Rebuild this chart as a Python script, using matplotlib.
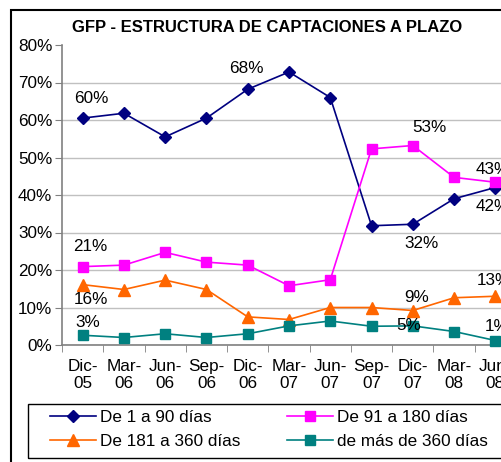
import matplotlib
matplotlib.use("Agg")
import matplotlib.pyplot as plt
from matplotlib.patches import Rectangle

plt.rcParams['font.family'] = ['Liberation Sans', 'DejaVu Sans']

categories = ["Dic-\n05", "Mar-\n06", "Jun-\n06", "Sep-\n06", "Dic-\n06", "Mar-\n07",
              "Jun-\n07", "Sep-\n07", "Dic-\n07", "Mar-\n08", "Jun-\n08"]
s1_90 = [60.5, 61.8, 55.5, 60.5, 68.2, 72.8, 66.0, 31.8, 32.2, 39.0, 42.0]
s91_180 = [20.9, 21.3, 24.7, 22.1, 21.3, 15.8, 17.4, 52.3, 53.2, 44.7, 43.4]
s181_360 = [16.1, 14.8, 17.3, 14.8, 7.5, 6.8, 10.0, 10.0, 9.2, 12.6, 13.0]
s360 = [2.6, 2.0, 3.0, 2.0, 3.0, 5.1, 6.4, 5.0, 5.1, 3.6, 1.2]
series_names = ["De 1 a 90 días", "De 91 a 180 días", "De 181 a 360 días", "de más de 360 días"]
yticks = [0, 10, 20, 30, 40, 50, 60, 70, 80]

# data labels: (series index, category index, text, dx px, dy px)
labels = [
    (0, 0, "60%", 9, 20), (0, 4, "68%", -1, 21), (0, 8, "32%", 9, -19), (0, 10, "42%", -3, -19),
    (1, 0, "21%", 8, 20), (1, 8, "53%", 17, 18), (1, 10, "43%", -3, 13),
    (2, 0, "16%", 8, -15), (2, 8, "9%", 4, 13), (2, 10, "13%", -1, 16),
    (3, 0, "3%", 5, 13), (3, 8, "5%", -4, 0), (3, 10, "1%", 2, 14),
]

W, H = 501, 462
FS = 12.3
fig = plt.figure(figsize=(W / 100, H / 100), dpi=100)
fig.patch.set_facecolor("white")
fig.patches.append(Rectangle((11 / W, -0.1), 1.2, 1 - 10 / H + 0.1, transform=fig.transFigure,
                             fill=False, edgecolor="black", linewidth=1.5))
fig.patches.append(Rectangle((28 / W, 1 - 458 / H), 1.2, 54 / H, transform=fig.transFigure,
                             fill=False, edgecolor="black", linewidth=1.0))

ax = fig.add_axes([62 / W, 1 - 345 / H, 454 / W, 300 / H])
x = list(range(len(categories)))
all_series = [s1_90, s91_180, s181_360, s360]
colors = ["#000080", "#FF00FF", "#FF6600", "#008080"]
markers = ["D", "s", "^", "s"]
msizes = [6.5, 7, 8, 6.5]
handles = []
for s, c, m, ms, name in zip(all_series, colors, markers, msizes, series_names):
    h, = ax.plot(x, s, color=c, marker=m, markersize=ms, linewidth=1.2, label=name,
                 markeredgecolor=c, markerfacecolor=c, clip_on=False, zorder=3)
    handles.append(h)

for si, ci, txt, dx, dy in labels:
    ax.annotate(txt, (x[ci], all_series[si][ci]), xytext=(dx * 0.72, dy * 0.72),
                textcoords="offset points", ha="center", va="center", fontsize=FS,
                color="black", annotation_clip=False)

ax.set_xlim(-0.5, len(categories) - 0.5)
ax.set_ylim(0, 80)
ax.set_yticks(yticks)
ax.set_yticklabels([f"{v}%" for v in yticks], fontsize=FS)
ax.set_xticks(x)
ax.set_xticklabels(categories, fontsize=FS, linespacing=1.2)
ax.set_xticks([i - 0.5 for i in range(len(categories) + 1)], minor=True)
ax.tick_params(axis="x", which="major", length=0, pad=10)
ax.tick_params(axis="x", which="minor", length=5, color="#808080", direction="out")
ax.tick_params(axis="y", length=5, color="#808080", direction="out", pad=2)
for sp in ["top", "right"]:
    ax.spines[sp].set_visible(False)
for sp in ["left", "bottom"]:
    ax.spines[sp].set_color("#808080")
    ax.spines[sp].set_linewidth(1.2)
ax.yaxis.grid(True, color="#C0C0C0", linewidth=1.0)
ax.set_axisbelow(True)
ax.get_ygridlines()[-1].set_visible(False)

fig.text(267 / W, 1 - 27 / H, "GFP - ESTRUCTURA DE CAPTACIONES A PLAZO", ha="center", va="center",
         fontsize=12, fontweight="bold")

order = [0, 2, 1, 3]
leg = fig.legend([handles[i] for i in order], [series_names[i] for i in order],
                 loc="upper left", bbox_to_anchor=(50 / W, 1 - 410 / H),
                 ncol=2, fontsize=FS, frameon=False, handlelength=2.7, handletextpad=0.25,
                 borderpad=0, labelspacing=0.55, borderaxespad=0, columnspacing=2.7)

fig.savefig("out.png", dpi=100)
